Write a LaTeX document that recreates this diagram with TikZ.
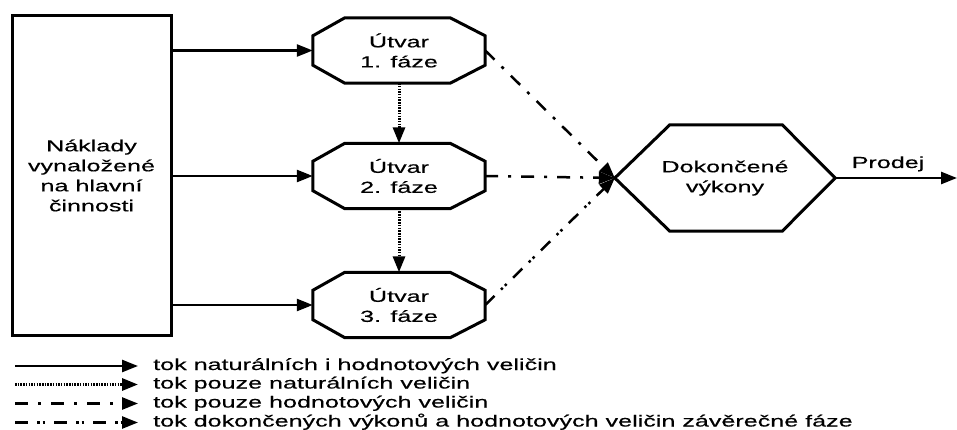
\documentclass[tikz,border=0pt]{standalone}
\usepackage{fontspec}
\setmainfont{Liberation Sans}[FakeStretch=1.57, FakeBold=0.4]
\usetikzlibrary{arrows.meta,calc}

% outline of an octagonal unit box around a named node
\newcommand{\octoutline}[1]{%
  \draw[outline] ($(#1.north west)+(32,0)$) -- ($(#1.north east)+(-35,0)$)
    -- ($(#1.north east)+(0,18)$) -- ($(#1.south east)+(0,-18)$)
    -- ($(#1.south east)+(-35,0)$) -- ($(#1.south west)+(32,0)$)
    -- ($(#1.south west)+(0,-18)$) -- ($(#1.north west)+(0,18)$) -- cycle;}

\begin{document}
\begin{tikzpicture}[x=1pt,y=-1pt,
  every node/.style={font=\fontsize{16}{20}\selectfont, inner sep=0pt, align=center},
  outline/.style={line width=3pt, line join=miter},
  costbox/.style={draw, line width=3pt, minimum width=159pt, minimum height=319pt},
  unitbox/.style={minimum width=172pt, minimum height=65pt},
  donebox/.style={minimum width=220pt, minimum height=106pt},
  tip/.style={-{Triangle[length=16pt,width=12pt]}},
  flow/.style={line width=2.5pt, tip},
  natflow/.style={line width=3pt, dash pattern=on 1.5pt off 1.2pt, tip},
  valflow/.style={line width=2.5pt, dash pattern=on 13pt off 10pt on 3pt off 10pt, tip},
  doneflow/.style={line width=2.5pt, dash pattern=on 13pt off 9pt on 2.5pt off 3pt on 2.5pt off 9pt, tip},
  legtext/.style={anchor=base west}
]
\useasboundingbox (0,0) rectangle (957,430);

% main blocks
\node[costbox] (nv) at (91.5,175.5) {Náklady\\vynaložené\\na hlavní\\činnosti};
\node[unitbox] (f1) at (399,50.5) {Útvar\\1. fáze};
\node[unitbox] (f2) at (399,176) {Útvar\\2. fáze};
\node[unitbox] (f3) at (399,305) {Útvar\\3. fáze};
\node[donebox] (dv) at (725,178) {Dokončené\\výkony};
\octoutline{f1}
\octoutline{f2}
\octoutline{f3}
\draw[outline] (dv.west) -- ($(dv.north west)+(55,0)$) -- ($(dv.north east)+(-53,0)$)
  -- (dv.east) -- ($(dv.south east)+(-53,0)$) -- ($(dv.south west)+(55,0)$) -- cycle;

% flows between blocks
\draw[flow] (f1.west -| nv.east) -- (f1.west);
\draw[flow] (f2.west -| nv.east) -- (f2.west);
\draw[flow] (f3.west -| nv.east) -- (f3.west);
\draw[natflow] (f1.south) -- (f2.north);
\draw[natflow] (f2.south) -- (f3.north);
\draw[valflow] (f1.east) -- (dv.west);
\draw[valflow] (f2.east) -- (dv.west);
\draw[doneflow] (f3.east) -- (dv.west);

\coordinate (pe) at (957,178);
\draw[flow] (dv.east) -- (pe);
\node[anchor=base] (prodej) at (888,168) {Prodej};

% legend
\coordinate (la1) at (15,366);  \coordinate (lb1) at (138,366);
\coordinate (la2) at (15,384.5);\coordinate (lb2) at (138,384.5);
\coordinate (la3) at (15,403.5);\coordinate (lb3) at (138,403.5);
\coordinate (la4) at (15,422.5);\coordinate (lb4) at (138,422.5);
\draw[flow] (la1) -- (lb1);
\draw[natflow] (la2) -- (lb2);
\draw[valflow] (la3) -- (lb3);
\draw[doneflow] (la4) -- (lb4);
\node[legtext] (lt1) at (153,370) {tok naturálních i hodnotových veličin};
\node[legtext] (lt2) at (153,388.5) {tok pouze naturálních veličin};
\node[legtext] (lt3) at (153,407.5) {tok pouze hodnotových veličin};
\node[legtext] (lt4) at (153,426.5) {tok dokončených výkonů a hodnotových veličin závěrečné fáze};
\end{tikzpicture}
\end{document}
